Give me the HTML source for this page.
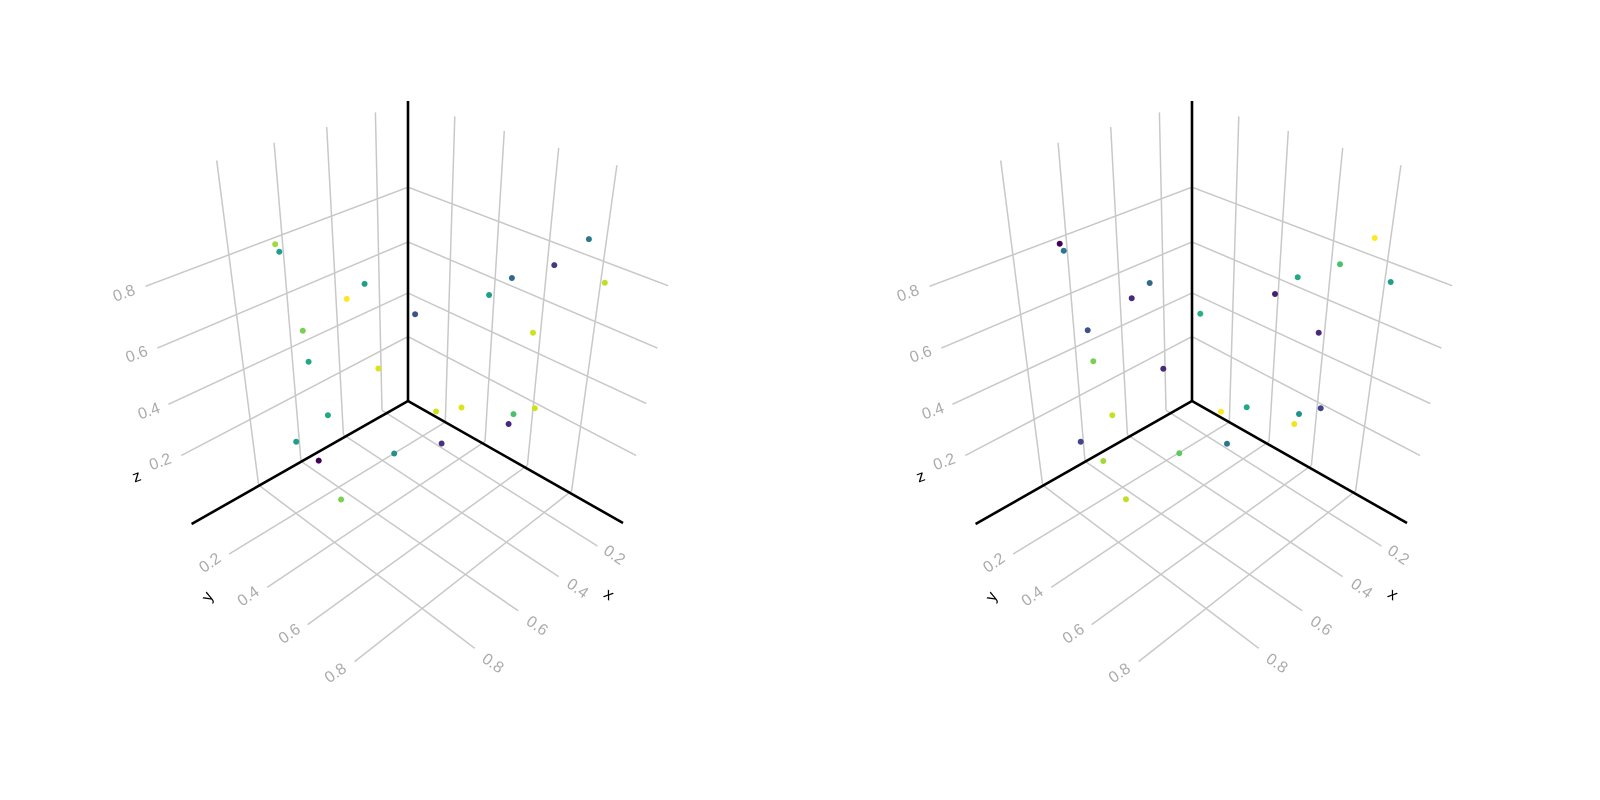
<!DOCTYPE html>
<html><head><meta charset="utf-8"><style>
html,body{margin:0;padding:0;background:#fff;width:1600px;height:800px;overflow:hidden}
svg text{font-family:"Liberation Sans",sans-serif;font-size:16px;fill:#aaa}
</style></head><body>
<svg width="1600" height="800" viewBox="0 0 1600 800" xmlns="http://www.w3.org/2000/svg">
<defs>
<g id="grid">
<g stroke="#c8c8c8" stroke-width="1.5" fill="none">
<line x1="375.4" y1="112.4" x2="382" y2="410.2"/>
<line x1="326.7" y1="127" x2="343.4" y2="434.7"/>
<line x1="274.1" y1="142.8" x2="301" y2="461.3"/>
<line x1="216.7" y1="160.5" x2="258.6" y2="485"/>
<line x1="408" y1="187.2" x2="145.6" y2="286.3"/>
<line x1="408" y1="241.9" x2="157.4" y2="348.1"/>
<line x1="408" y1="293" x2="168.4" y2="404.3"/>
<line x1="408" y1="336.6" x2="181.3" y2="455.5"/>
<line x1="408" y1="187.2" x2="668.1" y2="285.7"/>
<line x1="408" y1="241.9" x2="657.4" y2="348.1"/>
<line x1="408" y1="293" x2="646.3" y2="403.6"/>
<line x1="408" y1="336.6" x2="636" y2="455.5"/>
<line x1="454.8" y1="116.4" x2="445.3" y2="422.1"/>
<line x1="504.3" y1="130.8" x2="485" y2="441.5"/>
<line x1="558.7" y1="147.9" x2="527.4" y2="465.3"/>
<line x1="616.9" y1="165.2" x2="571.6" y2="490.9"/>
<line x1="382" y1="410.2" x2="597.4" y2="546"/>
<line x1="343.4" y1="434.7" x2="558.7" y2="576.6"/>
<line x1="301" y1="461.3" x2="518.2" y2="610.8"/>
<line x1="258.6" y1="485" x2="474.8" y2="648.3"/>
<line x1="445.3" y1="422.1" x2="229.2" y2="554"/>
<line x1="485" y1="441.5" x2="267.2" y2="587.4"/>
<line x1="527.4" y1="465.3" x2="307.6" y2="624.6"/>
<line x1="571.6" y1="490.9" x2="354.6" y2="661.6"/>
</g>
<g stroke="#000" stroke-width="2.6">
<line x1="408" y1="401" x2="408" y2="101"/>
<line x1="408" y1="401" x2="623" y2="523"/>
<line x1="408" y1="401" x2="191.6" y2="524"/>
</g>
<text transform="translate(124.3,294.1) rotate(-20)" text-anchor="middle" dominant-baseline="middle" font-size="17">0.8</text>
<text transform="translate(137,355.1) rotate(-20)" text-anchor="middle" dominant-baseline="middle" font-size="16">0.6</text>
<text transform="translate(149.2,411.9) rotate(-20)" text-anchor="middle" dominant-baseline="middle" font-size="15">0.4</text>
<text transform="translate(160.5,462.6) rotate(-20)" text-anchor="middle" dominant-baseline="middle" font-size="14">0.2</text>
<text transform="translate(137,477.3) rotate(-20)" text-anchor="middle" dominant-baseline="middle" font-size="16" style="fill:#000">z</text>
<text transform="translate(210.5,563.6) rotate(-35)" text-anchor="middle" dominant-baseline="middle" font-size="14">0.2</text>
<text transform="translate(248.8,597) rotate(-35)" text-anchor="middle" dominant-baseline="middle" font-size="15">0.4</text>
<text transform="translate(290,634.5) rotate(-35)" text-anchor="middle" dominant-baseline="middle" font-size="16">0.6</text>
<text transform="translate(336,673.8) rotate(-35)" text-anchor="middle" dominant-baseline="middle" font-size="17">0.8</text>
<text transform="translate(208.2,597) rotate(-60)" text-anchor="middle" dominant-baseline="middle" font-size="16" style="fill:#000">y</text>
<text transform="translate(613.9,555.8) rotate(35)" text-anchor="middle" dominant-baseline="middle" font-size="14">0.2</text>
<text transform="translate(577.1,589.2) rotate(35)" text-anchor="middle" dominant-baseline="middle" font-size="15">0.4</text>
<text transform="translate(536.6,626.5) rotate(35)" text-anchor="middle" dominant-baseline="middle" font-size="16">0.6</text>
<text transform="translate(492.4,664) rotate(35)" text-anchor="middle" dominant-baseline="middle" font-size="17">0.8</text>
<text transform="translate(608.4,595.1) rotate(35)" text-anchor="middle" dominant-baseline="middle" font-size="16" style="fill:#000">x</text>
</g>
</defs>
<use href="#grid"/>
<use href="#grid" transform="translate(784,0)"/>
<g>
<circle cx="275.2" cy="244.3" r="3" fill="#a0da39"/>
<circle cx="279.3" cy="251.7" r="3" fill="#1f9e89"/>
<circle cx="364.6" cy="283.9" r="3" fill="#1f9e89"/>
<circle cx="346.7" cy="298.9" r="3" fill="#fde725"/>
<circle cx="302.8" cy="330.7" r="3" fill="#7ad151"/>
<circle cx="308.6" cy="361.8" r="3" fill="#22a884"/>
<circle cx="378.3" cy="368.5" r="3" fill="#dde318"/>
<circle cx="327.9" cy="415.3" r="3" fill="#22a884"/>
<circle cx="296.2" cy="441.7" r="3" fill="#1f9e89"/>
<circle cx="318.7" cy="460.6" r="3" fill="#440154"/>
<circle cx="341.1" cy="499.5" r="3" fill="#7ad151"/>
<circle cx="394.2" cy="453.5" r="3" fill="#21918c"/>
<circle cx="441.6" cy="443.5" r="3" fill="#46327e"/>
<circle cx="415.1" cy="314.3" r="3" fill="#3b528b"/>
<circle cx="436.1" cy="411.5" r="3" fill="#d0e11c"/>
<circle cx="461.5" cy="407.5" r="3" fill="#dde318"/>
<circle cx="508.6" cy="424" r="3" fill="#482878"/>
<circle cx="513.5" cy="414.1" r="3" fill="#4ac16d"/>
<circle cx="534.8" cy="408.3" r="3" fill="#d0e11c"/>
<circle cx="489.1" cy="295" r="3" fill="#1f9e89"/>
<circle cx="511.9" cy="278" r="3" fill="#31688e"/>
<circle cx="554.3" cy="265.1" r="3" fill="#443983"/>
<circle cx="588.9" cy="239.1" r="3" fill="#2a788e"/>
<circle cx="604.8" cy="282.8" r="3" fill="#bddf26"/>
<circle cx="533" cy="332.8" r="3" fill="#d0e11c"/>
</g>
<g>
<circle cx="1059.7" cy="243.7" r="3" fill="#440154"/>
<circle cx="1063.7" cy="250.7" r="3" fill="#2a788e"/>
<circle cx="1149.7" cy="283" r="3" fill="#31688e"/>
<circle cx="1131.7" cy="298.3" r="3" fill="#482878"/>
<circle cx="1087.7" cy="330.3" r="3" fill="#3b528b"/>
<circle cx="1093.3" cy="361.3" r="3" fill="#7ad151"/>
<circle cx="1163.3" cy="368.7" r="3" fill="#482878"/>
<circle cx="1112.3" cy="415.3" r="3" fill="#c8e020"/>
<circle cx="1080.7" cy="441.7" r="3" fill="#414487"/>
<circle cx="1103.3" cy="461" r="3" fill="#a0da39"/>
<circle cx="1126" cy="499.3" r="3" fill="#bddf26"/>
<circle cx="1179.3" cy="453.3" r="3" fill="#5ec962"/>
<circle cx="1227" cy="443.7" r="3" fill="#2a788e"/>
<circle cx="1200.3" cy="313.7" r="3" fill="#2ab07f"/>
<circle cx="1221" cy="411.7" r="3" fill="#fde725"/>
<circle cx="1246.7" cy="407.3" r="3" fill="#22a884"/>
<circle cx="1294.3" cy="424" r="3" fill="#f1e51d"/>
<circle cx="1299" cy="414" r="3" fill="#21918c"/>
<circle cx="1320.7" cy="408.3" r="3" fill="#414487"/>
<circle cx="1297.7" cy="277.3" r="3" fill="#22a884"/>
<circle cx="1340" cy="264.3" r="3" fill="#4ac16d"/>
<circle cx="1374.7" cy="238" r="3" fill="#fde725"/>
<circle cx="1390.7" cy="282" r="3" fill="#1f9e89"/>
<circle cx="1275" cy="294" r="3" fill="#481f70"/>
<circle cx="1318.7" cy="332.7" r="3" fill="#482878"/>
</g>
</svg>
</body></html>
